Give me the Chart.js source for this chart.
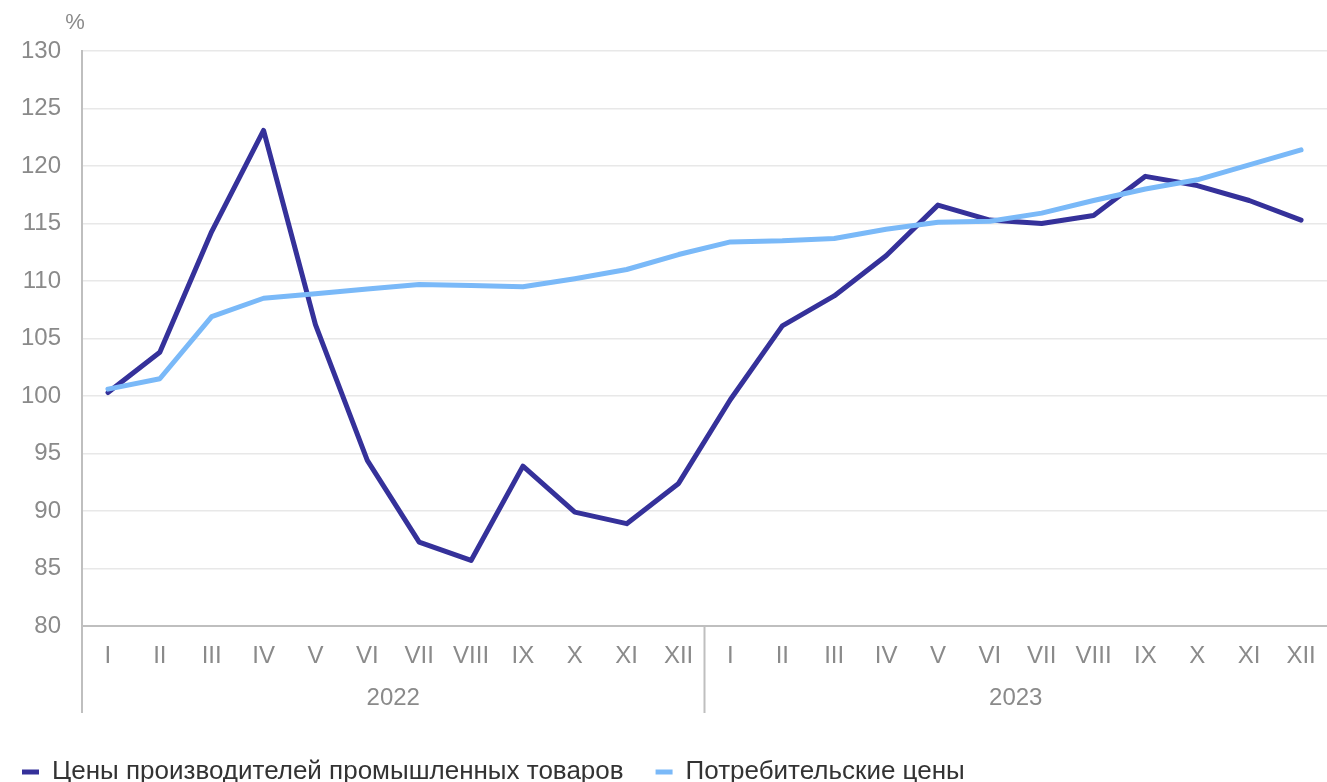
<!DOCTYPE html>
<html lang="ru">
<head>
<meta charset="utf-8">
<title>Цены</title>
<script src="https://cdn.jsdelivr.net/npm/chart.js@4.4.1/dist/chart.umd.min.js"></script>
<style>
    html, body { margin: 0; padding: 0; background: #fff; }
    #wrap { width: 1327px; height: 782px; position: relative; }
</style>
</head>
<body>
<div id="wrap"><canvas id="chartPrices"></canvas></div>

<script>
// ======================
// DATA
// ======================
const months = ["I", "II", "III", "IV", "V", "VI", "VII", "VIII", "IX", "X", "XI", "XII",
                "I", "II", "III", "IV", "V", "VI", "VII", "VIII", "IX", "X", "XI", "XII"];
const years = ["2022", "2023"];

const producerPrices = [100.3, 103.8, 114.3, 123.1, 106.2, 94.4, 87.3, 85.7, 93.9, 89.9, 88.9, 92.4,
                        99.7, 106.1, 108.7, 112.2, 116.6, 115.3, 115.0, 115.7, 119.1, 118.3, 117.0, 115.3];
const consumerPrices = [100.6, 101.5, 106.9, 108.5, 108.9, 109.3, 109.7, 109.6, 109.5, 110.2, 111.0, 112.3,
                        113.4, 113.5, 113.7, 114.5, 115.1, 115.2, 115.9, 117.0, 118.0, 118.8, 120.1, 121.4];

const yTicks = { min: 80, max: 130, step: 5 };

const GRAY_TEXT = "#8a8a8a";
const AXIS_LINE = "#bfbfbf";
const FONT = "'Liberation Sans', Arial, sans-serif";


// ======================
// PLUGIN: "%" + YEAR DIVIDERS
// ======================
const extrasPlugin = {
    id: "extras",
    afterDraw(chart) {
        const ctx = chart.ctx;
        const area = chart.chartArea;
        const x = chart.scales.x;
        const bottom = area.bottom + 87;

        ctx.save();
        ctx.strokeStyle = AXIS_LINE;
        ctx.lineWidth = 2;

        // left axis goes down through the label rows
        ctx.beginPath();
        ctx.moveTo(area.left, area.bottom);
        ctx.lineTo(area.left, bottom);
        ctx.stroke();

        // divider between years
        const mid = (x.getPixelForValue(11) + x.getPixelForValue(12)) / 2;
        ctx.beginPath();
        ctx.moveTo(mid, area.bottom);
        ctx.lineTo(mid, bottom);
        ctx.stroke();

        // unit label
        ctx.fillStyle = GRAY_TEXT;
        ctx.font = "22px " + FONT;
        ctx.textAlign = "center";
        ctx.textBaseline = "middle";
        ctx.fillText("%", area.left - 7, area.top - 28);
        ctx.restore();
    }
};


// ======================
// CHART
// ======================
const ctx = document.getElementById("chartPrices").getContext("2d");

new Chart(ctx, {
    type: "line",
    data: {
        labels: months,
        datasets: [
            {
                label: "Цены производителей промышленных товаров",
                data: producerPrices,
                borderColor: "#35319a",
                backgroundColor: "#35319a",
                borderWidth: 5,
                pointRadius: 0,
                tension: 0,
                borderJoinStyle: "round",
                borderCapStyle: "round",
                order: 1
            },
            {
                label: "Потребительские цены",
                data: consumerPrices,
                borderColor: "#7ab9f8",
                backgroundColor: "#7ab9f8",
                borderWidth: 5,
                pointRadius: 0,
                tension: 0,
                borderJoinStyle: "round",
                borderCapStyle: "round",
                order: 0
            }
        ]
    },
    options: {
        responsive: true,
        maintainAspectRatio: false,
        animation: false,
        layout: {
            padding: { top: 51, left: -10, right: 0, bottom: -13 }
        },
        plugins: {
            tooltip: { enabled: false },
            legend: {
                display: true,
                position: "bottom",
                align: "start",
                labels: {
                    boxWidth: 17,
                    boxHeight: 5,
                    padding: 32,
                    color: "#333333",
                    font: { family: FONT, size: 26 },
                    sort: (a, b) => a.datasetIndex - b.datasetIndex,
                    generateLabels(chart) {
                        const items = Chart.defaults.plugins.legend.labels.generateLabels(chart);
                        items.forEach(it => { it.lineWidth = 0; });
                        return items;
                    }
                }
            }
        },
        scales: {
            x: {
                type: "category",
                offset: true,
                // tick marks hidden, their length only moves the labels down
                grid: { display: false, drawTicks: true, tickLength: 14 },
                border: { display: true, color: AXIS_LINE, width: 2 },
                ticks: {
                    color: GRAY_TEXT,
                    font: { family: FONT, size: 24 },
                    padding: 2,
                    maxRotation: 0,
                    autoSkip: false
                },
                afterFit(scale) { scale.height = 52; }
            },
            x2: {
                type: "category",
                position: "bottom",
                labels: years,
                offset: true,
                grid: { display: false, drawTicks: false },
                border: { display: false },
                ticks: {
                    color: GRAY_TEXT,
                    font: { family: FONT, size: 24 },
                    padding: 6,
                    maxRotation: 0
                },
                afterFit(scale) { scale.height = 49; }
            },
            y: {
                min: yTicks.min,
                max: yTicks.max,
                grid: { color: "#e8e8e8", lineWidth: 1.5, drawTicks: false },
                border: { display: true, color: AXIS_LINE, width: 2 },
                ticks: {
                    stepSize: yTicks.step,
                    color: GRAY_TEXT,
                    font: { family: FONT, size: 24 },
                    padding: 21
                },
                afterFit(scale) { scale.width = 92; }
            }
        }
    },
    plugins: [extrasPlugin]
});
</script>
</body>
</html>
